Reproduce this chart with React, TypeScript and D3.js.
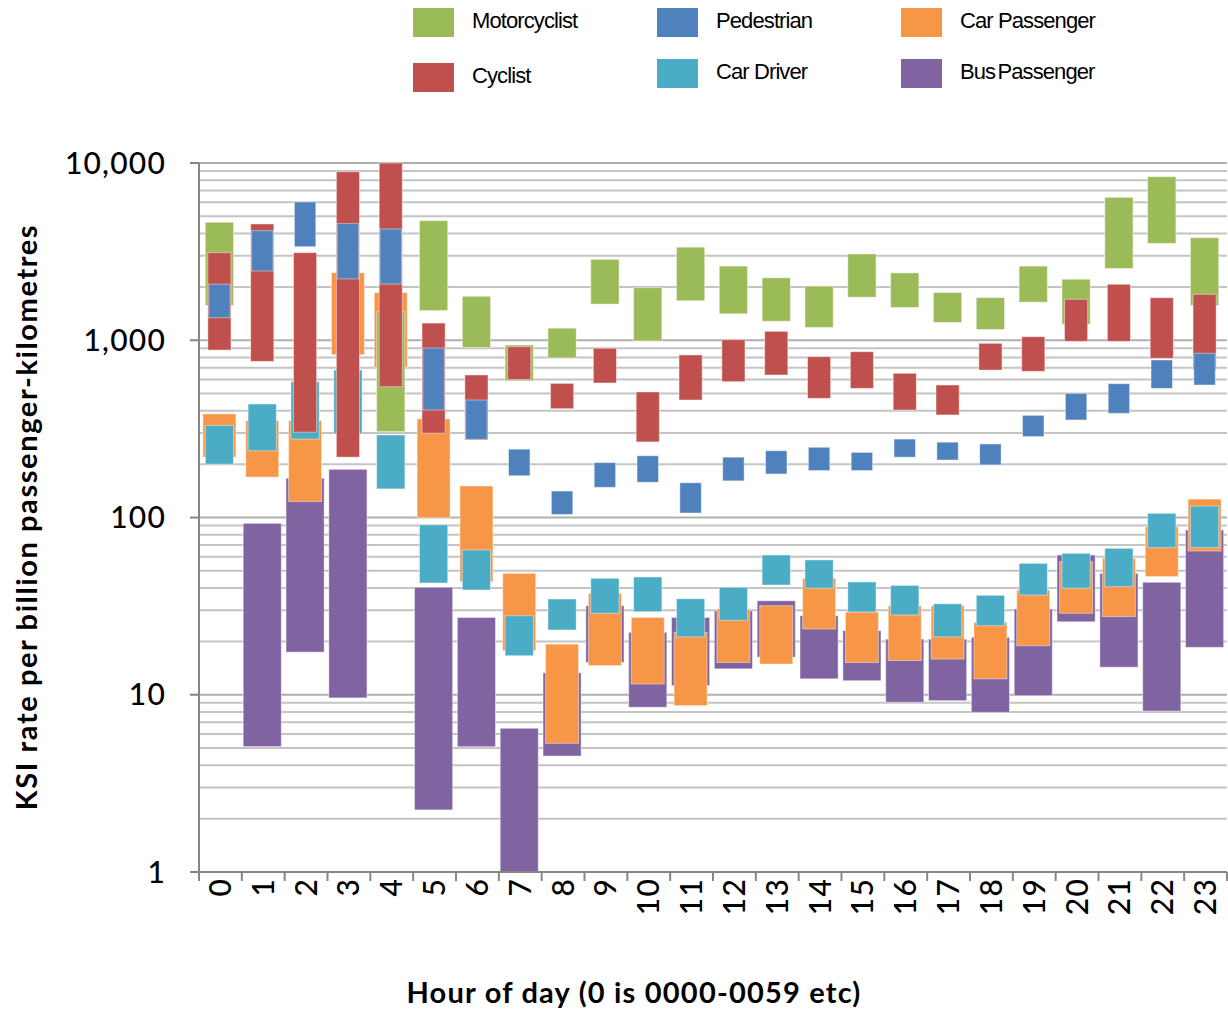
import * as d3 from 'd3'

const hours = d3.range(0, 24)

// each series: high and low end of the floating bar (null = no bar)
const motorcyclistHigh = [4630, null, null, null, 1450, 4730, 1770, 940, 1170, 2860, 1980, 3350, 2620, 2250, 2020, 3070, 2400, 1860, 1740, 2620, 2210, 6400, 8370, 3790]
const motorcyclistLow = [1570, null, null, null, 305, 1470, 910, 590, 795, 1600, 990, 1670, 1410, 1280, 1180, 1750, 1530, 1260, 1150, 1640, 1230, 2540, 3520, 1570]
const cyclistHigh = [3120, 4530, 3120, 8930, 10000, 1250, 637, 920, 571, 901, 511, 826, 1007, 1123, 808, 862, 651, 559, 961, 1047, 1702, 2069, 1738, 1816]
const cyclistLow = [880, 760, 303, 219, 547, 299, 274, 600, 411, 574, 267, 460, 584, 637, 470, 535, 404, 379, 679, 668, 986, 986, 791, 679]
const pedestrianHigh = [2070, 4150, 6030, 4550, 4245, 904, 460, 243, 141, 204, 223, 157, 219, 238, 249, 233, 277, 266, 260, 377, 502, 569, 774, 844]
const pedestrianLow = [1340, 2460, 3370, 2220, 2076, 404, 276, 172, 104, 148, 158, 106, 161, 176, 184, 184, 219, 211, 198, 286, 355, 387, 535, 559]
const carDriverHigh = [331, 437, 584, 679, 292, 91, 65.6, 27.9, 34.7, 45.4, 46.2, 34.8, 40.4, 61.4, 57.6, 43.3, 41.4, 32.6, 36.4, 55.1, 62.8, 67, 105.6, 116]
const carDriverLow = [200, 238, 277, 297, 145, 42.7, 39, 16.6, 23.2, 28.8, 29.4, 21.2, 26.3, 41.6, 39.9, 29.3, 28.2, 21.2, 24.5, 36.5, 39.9, 40.7, 67.6, 67.6]
const carPassengerHigh = [384, 352, 352, 2405, 1855, 360, 150.6, 48.4, 19.3, 37.4, 27.3, 22.5, 30.5, 31.8, 45.4, 29.3, 31.8, 31.8, 25.6, 39, 56.3, 58.9, 88.7, 127]
const carPassengerLow = [219, 169, 123, 829, 704, 99.7, 43.4, 17.7, 5.32, 14.6, 11.5, 8.68, 15.2, 14.9, 23.5, 15.2, 15.6, 15.9, 12.3, 18.9, 28.8, 27.6, 46.4, 64.7]
const busPassengerHigh = [null, 92.7, 166.6, 187, null, 40.4, 27.3, 6.47, 13.3, 31.8, 22.5, 27.3, 29.8, 33.9, 27.9, 23, 20.6, 20.6, 21.1, 30.5, 61.4, 48.4, 43.1, 85]
const busPassengerLow = [null, 5.1, 17.4, 9.6, null, 2.24, 5.09, 1.0, 4.51, 15.2, 8.5, 11.25, 14.0, 16.3, 12.3, 12, 9.07, 9.26, 7.96, 9.88, 25.8, 14.3, 8.09, 18.5]

const yTicks = [1, 10, 100, 1000, 10000]

// drawing order (bottom first), width as share of the category band
const series = [
  { name: 'Bus Passenger', color: '#8064A2', high: busPassengerHigh, low: busPassengerLow, w: 0.89 },
  { name: 'Car Passenger', color: '#F79646', high: carPassengerHigh, low: carPassengerLow, w: 0.77 },
  { name: 'Car Driver', color: '#4BACC6', high: carDriverHigh, low: carDriverLow, w: 0.66 },
  { name: 'Motorcyclist', color: '#9BBB59', high: motorcyclistHigh, low: motorcyclistLow, w: 0.66 },
  { name: 'Cyclist', color: '#C0504D', high: cyclistHigh, low: cyclistLow, w: 0.54 },
  { name: 'Pedestrian', color: '#4F81BD', high: pedestrianHigh, low: pedestrianLow, w: 0.5 },
]

const legendOrder = ['Motorcyclist', 'Pedestrian', 'Car Passenger', 'Cyclist', 'Car Driver', 'Bus Passenger']

export default function App() {
  const width = 1228
  const height = 1011
  const left = 199
  const right = 1227
  const top = 163
  const bottom = 872

  const x = d3.scaleBand<number>().domain(hours).range([left, right]).paddingInner(0)
  const y = d3.scaleLog().domain([1, 10000]).range([bottom, top])
  const bw = x.bandwidth()

  const minor: number[] = []
  yTicks.slice(0, -1).forEach(d => d3.range(2, 10).forEach(m => minor.push(d * m)))

  const fmt = d3.format(',')
  const font = 'Lato, "Open Sans", sans-serif'

  return (
    <svg width={width} height={height} style={{ position: 'absolute', left: 0, top: 0, background: '#fff' }}>
      {/* gridlines */}
      {minor.map(v => (
        <line key={'m' + v} x1={left} x2={right} y1={y(v)} y2={y(v)} stroke="#C4C4C4" strokeWidth={2} />
      ))}
      {yTicks.slice(1).map(v => (
        <line key={'M' + v} x1={left} x2={right} y1={y(v)} y2={y(v)} stroke="#AFAFAF" strokeWidth={2} />
      ))}

      {/* floating bars */}
      {series.map(s => (
        <g key={s.name}>
          {hours.map((h, i) => {
            const hi = s.high[i]
            const lo = s.low[i]
            if (hi == null || lo == null) return null
            const w = bw * s.w
            const cx = (x(h) as number) + bw / 2 - 1
            return (
              <rect key={h} x={cx - w / 2} y={y(hi)} width={w} height={y(lo) - y(hi)}
                fill={s.color} stroke="#fff" strokeOpacity={0.45} strokeWidth={1} />
            )
          })}
        </g>
      ))}

      {/* axes */}
      <line x1={left} x2={left} y1={top} y2={bottom} stroke="#868686" strokeWidth={2} />
      <line x1={left} x2={right} y1={bottom} y2={bottom} stroke="#868686" strokeWidth={2} />
      {yTicks.map(v => (
        <g key={'t' + v}>
          <line x1={left - 9} x2={left} y1={y(v)} y2={y(v)} stroke="#868686" strokeWidth={2} />
          <text x={166} y={y(v)} dy="0.35em" textAnchor="end" fontFamily={font} fontSize={30}
            letterSpacing={1.2} fontWeight={500} fill="#000">
            {fmt(v)}
          </text>
        </g>
      ))}
      {hours.concat([24]).map(h => {
        const xx = h < 24 ? (x(h) as number) : right
        return <line key={'xt' + h} x1={xx} x2={xx} y1={bottom} y2={bottom + 9} stroke="#868686" strokeWidth={2} />
      })}
      {hours.map(h => {
        const cx = (x(h) as number) + bw / 2
        return (
          <text key={'xl' + h} transform={`translate(${cx},${bottom + 6}) rotate(-90)`} dy="0.35em"
            textAnchor="end" fontFamily={font} fontSize={30} letterSpacing={1.2} fontWeight={500} fill="#000">
            {h}
          </text>
        )
      })}

      {/* axis titles */}
      <text transform={`translate(37,517) rotate(-90)`} textAnchor="middle" fontFamily={font}
        fontWeight="bold" fontSize={29} letterSpacing={1.6} fill="#000">
        KSI rate per billion passenger-kilometres
      </text>
      <text x={634} y={1003} textAnchor="middle" fontFamily={font} fontWeight="bold" fontSize={29}
        letterSpacing={1.2} fill="#000">
        Hour of day (0 is 0000-0059 etc)
      </text>

      {/* legend */}
      {legendOrder.map((name, i) => {
        const s = series.find(d => d.name === name)!
        const col = i % 3
        const row = Math.floor(i / 3)
        const lx = 413 + col * 244
        const ly = row === 0 ? 8 : col === 0 ? 63 : 59
        return (
          <g key={'lg' + name}>
            <rect x={lx} y={ly} width={41} height={29} fill={s.color} />
            <text x={lx + 59} y={ly + 12} dy="0.35em" fontFamily='"Liberation Sans", Arial, sans-serif'
              fontSize={22} letterSpacing={-0.9} wordSpacing={name === 'Bus Passenger' ? -3 : 0} fill="#000">
              {name}
            </text>
          </g>
        )
      })}
    </svg>
  )
}
